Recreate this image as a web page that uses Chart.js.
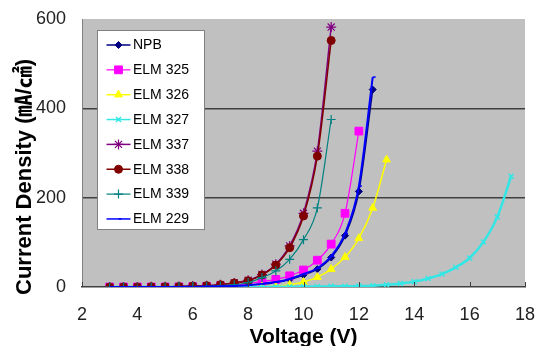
<!DOCTYPE html>
<html>
<head>
<meta charset="utf-8">
<script src="https://cdn.jsdelivr.net/npm/chart.js@4.4.1/dist/chart.umd.min.js"></script>
<style>
html,body{margin:0;padding:0;background:#ffffff;}
#wrap{width:537px;height:346px;position:relative;}
</style>
</head>
<body>
<div id="wrap"><canvas id="c" width="537" height="346" style="width:537px;height:346px"></canvas></div>
<script>
// ---- data ----
const voltage = [3, 3.5, 4, 4.5, 5, 5.5, 6, 6.5, 7, 7.5, 8, 8.5, 9, 9.5, 10, 10.5, 11, 11.5, 12, 12.5, 13, 13.5, 14, 14.5, 15, 15.5, 16, 16.5, 17, 17.5];
const seriesNames = ['NPB', 'ELM 325', 'ELM 326', 'ELM 327', 'ELM 337', 'ELM 338', 'ELM 339', 'ELM 229'];
const npb    = [0, 0, 0, 0, 0, 0, 0.5, 1, 1.5, 2.5, 4, 6, 10, 17, 27, 40, 66, 115, 214, 442];
const elm325 = [0, 0, 0, 0, 0, 0, 0.5, 1, 2, 4, 8, 12, 17, 25, 38, 60, 96, 165, 349];
const elm326 = [0, 0, 0, 0, 0, 0, 0, 0, 0, 0.5, 1, 1, 1.5, 5, 11, 22, 40, 67, 109, 177, 285];
const elm327 = [0, 0, 0, 0, 0, 0, 0, 0, 0, 0, 0, 0, 0.5, 0.5, 1, 1, 1.5, 1.5, 2, 3, 5, 8, 12, 19, 29, 44, 65, 101, 157, 248];
const elm337 = [0, 0, 0, 0.5, 0.5, 1, 2, 3, 5, 9, 15, 28, 51, 92, 165, 304, 582];
const elm338 = [0, 0, 0, 0.5, 0.5, 1, 2, 3, 5, 9, 14, 27, 49, 88, 159, 293, 552];
const elm339 = [0, 0, 0, 0, 0, 0.5, 1, 1.5, 3, 5, 10, 21, 36, 62, 106, 177, 375];
const elm229 = [0, 0, 0, 0, 0, 0, 0.5, 1, 1.5, 2.5, 4, 7, 11, 18, 29, 42, 69, 120, 226, 470];
const seriesValues = [npb, elm325, elm326, elm327, elm337, elm338, elm339, elm229];
const xTickValues = [2, 4, 6, 8, 10, 12, 14, 16, 18];
const yTickValues = [0, 200, 400, 600];
const xTitle = 'Voltage (V)';
const yTitle = 'Current Density (㎃/㎠)';

// ---- styles ----
const styles = [
  {color: '#000080', point: 'rectRot',  r: 3.5, lw: 1.5, pbw: 1},
  {color: '#FF00FF', point: 'rect',     r: 5.5, lw: 1.2, pbw: 1},
  {color: '#FFFF00', point: 'triangle', r: 4.5, lw: 1.5, pbw: 1},
  {color: '#33E6E6', point: 'crossRot', r: 3.5, lw: 2.5, pbw: 1.5},
  {color: '#800080', point: 'star',     r: 5,   lw: 1.5, pbw: 1.2},
  {color: '#800000', point: 'circle',   r: 4,   lw: 1.5, pbw: 1},
  {color: '#008080', point: 'cross',    r: 4.5, lw: 1.2, pbw: 1.2},
  {color: '#0000FF', point: 'dash',     r: 3,   lw: 2,   pbw: 1.5}
];

const FONT = '"Liberation Sans", Arial, sans-serif';
Chart.defaults.font.family = FONT;

const datasets = seriesNames.map((name, i) => ({
  label: name,
  data: seriesValues[i].map((v, k) => ({x: voltage[k], y: v})),
  borderColor: styles[i].color,
  backgroundColor: styles[i].color,
  borderWidth: styles[i].lw,
  pointStyle: styles[i].point,
  pointRadius: styles[i].r,
  pointBackgroundColor: styles[i].color,
  pointBorderColor: styles[i].color,
  pointBorderWidth: styles[i].pbw,
  cubicInterpolationMode: 'monotone',
  fill: false,
  order: seriesNames.length - i
}));

function drawMarker(ctx, st, x, y) {
  ctx.save();
  ctx.fillStyle = st.color;
  ctx.strokeStyle = st.color;
  ctx.lineWidth = st.pbw;
  if (Chart.helpers && Chart.helpers.drawPoint) {
    Chart.helpers.drawPoint(ctx, {pointStyle: st.point, radius: st.r, rotation: 0, borderWidth: st.pbw}, x, y);
  }
  ctx.restore();
}

const decor = {
  id: 'decor',
  beforeDraw(chart) {
    const {ctx, chartArea: a} = chart;
    ctx.save();
    ctx.fillStyle = '#C0C0C0';
    ctx.fillRect(a.left, a.top, a.right - a.left, a.bottom - a.top);
    ctx.restore();
  },
  afterDraw(chart) {
    const {ctx, chartArea: a} = chart;
    const xs = chart.scales.x;
    ctx.save();
    // inside tick marks on x axis
    ctx.strokeStyle = '#404040';
    ctx.lineWidth = 1;
    xTickValues.forEach(v => {
      const px = Math.round(xs.getPixelForValue(v)) + 0.5;
      ctx.beginPath();
      ctx.moveTo(px, a.bottom);
      ctx.lineTo(px, a.bottom - 5);
      ctx.stroke();
    });
    ctx.restore();

    // y axis title
    ctx.save();
    ctx.translate(25, 177);
    ctx.rotate(-Math.PI / 2);
    ctx.font = 'bold 22px "Liberation Sans", "Noto Sans CJK KR", sans-serif';
    ctx.fillStyle = '#000000';
    ctx.textAlign = 'center';
    ctx.textBaseline = 'middle';
    ctx.fillText(yTitle, 0, 0);
    ctx.restore();

    // legend box
    ctx.save();
    ctx.fillStyle = '#FFFFFF';
    ctx.fillRect(97.5, 30.5, 107, 199);
    ctx.strokeStyle = '#808080';
    ctx.lineWidth = 1;
    ctx.strokeRect(97.5, 30.5, 107, 199);
    ctx.font = '14px ' + FONT;
    ctx.textBaseline = 'middle';
    ctx.textAlign = 'left';
    chart.data.datasets.forEach((ds, i) => {
      const st = styles[i];
      const y = 45 + i * 24.85;
      ctx.strokeStyle = st.color;
      ctx.lineWidth = Math.min(st.lw, 1.5);
      ctx.beginPath();
      ctx.moveTo(106.5, y);
      ctx.lineTo(130.5, y);
      ctx.stroke();
      drawMarker(ctx, st, 118.5, y);
      ctx.fillStyle = '#000000';
      ctx.fillText(ds.label, 133, y + 0.5);
    });
    ctx.restore();
  }
};

new Chart(document.getElementById('c'), {
  type: 'line',
  data: {datasets},
  options: {
    responsive: false,
    animation: false,
    events: [],
    layout: {padding: {left: 0, right: 12, top: 19, bottom: 0}},
    plugins: {legend: {display: false}, tooltip: {enabled: false}},
    scales: {
      x: {
        type: 'linear',
        min: 2, max: 18,
        afterBuildTicks: s => { s.ticks = xTickValues.map(v => ({value: v})); },
        afterFit: s => { s.height = 59; s.paddingLeft = 0; s.paddingRight = 0; },
        grid: {display: true, drawOnChartArea: false, drawTicks: false},
        border: {display: true, color: '#404040', width: 1.5},
        ticks: {color: '#222222', font: {size: 18}, padding: 17, maxRotation: 0, autoSkip: false},
        title: {display: true, text: xTitle, color: '#000000', font: {size: 21, weight: 'bold', lineHeight: 1}, padding: {top: 0, bottom: -2}}
      },
      y: {
        type: 'linear',
        min: 0, max: 600,
        afterBuildTicks: s => { s.ticks = yTickValues.map(v => ({value: v})); },
        afterFit: s => { s.width = 82; s.paddingTop = 0; s.paddingBottom = 0; },
        grid: {
          drawTicks: false,
          color: c => (c.tick && (c.tick.value === 200 || c.tick.value === 400)) ? '#404040' : 'rgba(0,0,0,0)',
          lineWidth: 1.5
        },
        border: {display: true, color: '#808080', width: 1},
        ticks: {color: '#222222', font: {size: 18}, padding: 16}
      }
    }
  },
  plugins: [decor]
});
</script>
</body>
</html>
